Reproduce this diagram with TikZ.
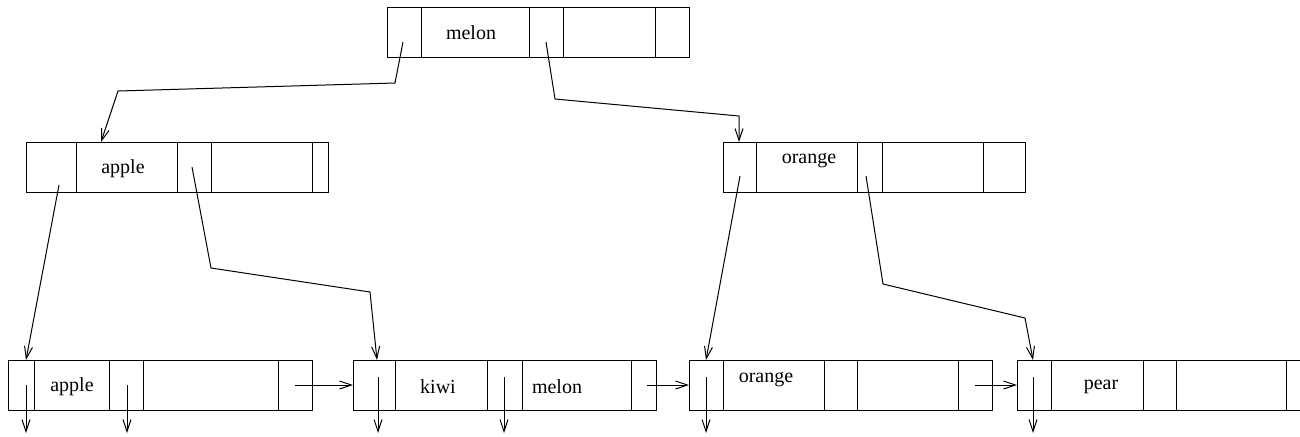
\documentclass[tikz,border=0pt]{standalone}
\usepackage{fontspec}
\setmainfont{Liberation Serif}
\usetikzlibrary{arrows.meta}
\tikzset{
  cell/.style={draw, line width=0.5pt},
  lbl/.style={inner sep=0pt, font=\fontsize{10}{12}\selectfont},
  ptr/.style={line width=0.5pt, -{Straight Barb[length=6pt,width=4pt,line width=0.5pt]}},
  wire/.style={line width=0.5pt}
}
\begin{document}
\begin{tikzpicture}[x=0.5pt,y=-0.5pt]
\useasboundingbox (0,0) rectangle (1300,436);
\clip (0,0) rectangle (1300,436);
% ---- records: rectangles and dividers
\draw[cell] (387,7) rectangle (689,57);
\foreach \x in {421,529,563,655} \draw[cell] (\x,7) -- (\x,57);
\draw[cell] (26,142) rectangle (328,192);
\foreach \x in {76,177,211,312} \draw[cell] (\x,142) -- (\x,192);
\draw[cell] (723,142) rectangle (1025,192);
\foreach \x in {756,857,882,983} \draw[cell] (\x,142) -- (\x,192);
\draw[cell] (8,360) rectangle (312,410);
\foreach \x in {34,109,143,278} \draw[cell] (\x,360) -- (\x,410);
\draw[cell] (353,360) rectangle (656,410);
\foreach \x in {395,487,522,631} \draw[cell] (\x,360) -- (\x,410);
\draw[cell] (689,360) rectangle (992,410);
\foreach \x in {723,824,857,958} \draw[cell] (\x,360) -- (\x,410);
\draw[cell] (1017,360) rectangle (1320,410);
\foreach \x in {1051,1143,1176,1286} \draw[cell] (\x,360) -- (\x,410);
% ---- labels
\node[lbl] (tmelon) at (471,33) {melon};
\node[lbl] (tapple) at (123,169) {apple};
\node[lbl] (torange) at (809,161) {orange};
\node[lbl] (tapple2) at (72,387) {apple};
\node[lbl] (tkiwi) at (438,387) {kiwi};
\node[lbl] (tmelon2) at (557,387) {melon};
\node[lbl] (torange2) at (766,380) {orange};
\node[lbl] (tpear) at (1101,387) {pear};
% ---- pointer origins and targets
\coordinate (m0) at (403,42);
\coordinate (m1) at (546,42);
\coordinate (a0) at (59,185);
\coordinate (a1) at (192,167);
\coordinate (o0) at (740,176);
\coordinate (o1) at (866,176);
\coordinate (inA) at (101,142);
\coordinate (inO) at (739,142);
\coordinate (inL1) at (26,360);
\coordinate (inL2) at (377,360);
\coordinate (inL3) at (706,360);
\coordinate (inL4) at (1033,360);
\coordinate (l1a) at (26,385);
\coordinate (l1b) at (127,385);
\coordinate (l2a) at (378,377);
\coordinate (l2b) at (504,377);
\coordinate (l3a) at (706,377);
\coordinate (l4a) at (1033,377);
\coordinate (d1a) at (26,433);
\coordinate (d1b) at (127,433);
\coordinate (d2a) at (378,433);
\coordinate (d2b) at (504,433);
\coordinate (d3a) at (706,433);
\coordinate (d4a) at (1033,433);
\coordinate (n1) at (295,385);
\coordinate (n2) at (647,385);
\coordinate (n3) at (975,385);
\coordinate (e2) at (353,385);
\coordinate (e3) at (689,385);
\coordinate (e4) at (1017,385);
% ---- tree pointers
\draw[ptr] (m0) -- (395,83) -- (118,91) -- (inA);
\draw[ptr] (m1) -- (555,99) -- (739,116) -- (inO);
\draw[ptr] (a0) -- (inL1);
\draw[ptr] (a1) -- (211,268) -- (370,292) -- (inL2);
\draw[ptr] (o0) -- (inL3);
\draw[ptr] (o1) -- (883,284) -- (1025,318) -- (inL4);
% ---- leaf links
\draw[ptr] (n1) -- (e2);
\draw[ptr] (n2) -- (e3);
\draw[ptr] (n3) -- (e4);
% ---- data pointers
\draw[ptr] (l1a) -- (d1a);
\draw[ptr] (l1b) -- (d1b);
\draw[ptr] (l2a) -- (d2a);
\draw[ptr] (l2b) -- (d2b);
\draw[ptr] (l3a) -- (d3a);
\draw[ptr] (l4a) -- (d4a);
\end{tikzpicture}
\end{document}
